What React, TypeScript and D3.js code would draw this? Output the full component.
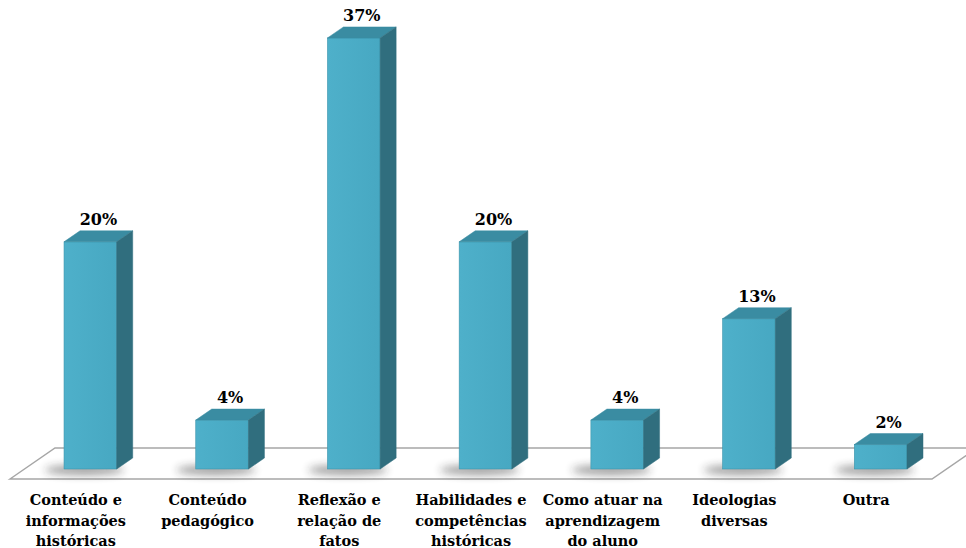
import React from "react";
import * as d3 from "d3";

const categories: string[][] = [
  ["Conteúdo e", "informações", "históricas"],
  ["Conteúdo", "pedagógico"],
  ["Reflexão e", "relação de", "fatos"],
  ["Habilidades e", "competências", "históricas"],
  ["Como atuar na", "aprendizagem", "do aluno"],
  ["Ideologias", "diversas"],
  ["Outra"],
];
const values: number[] = [19.5, 4.2, 37, 19.5, 4.2, 12.9, 2.1];

const W = 966;
const H = 548;
const FLOOR_FRONT_Y = 479;
const FLOOR_BACK_Y = 448;
const FLOOR_FRONT_LEFT = 10;
const FLOOR_FRONT_RIGHT = 932;
const FLOOR_DX = 45;
const BAR_BASE_Y = 469;
const DEPTH_DX = 16;
const DEPTH_DY = 11;
const SERIF = "'DejaVu Serif'";

export default function App() {
  const keys = categories.map((_, i) => String(i));
  const planeShift = (FLOOR_FRONT_Y - BAR_BASE_Y) * (FLOOR_DX / (FLOOR_FRONT_Y - FLOOR_BACK_Y));
  const x = d3
    .scaleBand<string>()
    .domain(keys)
    .range([FLOOR_FRONT_LEFT + planeShift, FLOOR_FRONT_RIGHT + planeShift])
    .paddingInner(0.6)
    .paddingOuter(0.3);
  const xFront = d3
    .scaleBand<string>()
    .domain(keys)
    .range([FLOOR_FRONT_LEFT, FLOOR_FRONT_RIGHT]);
  const y = d3.scaleLinear().domain([0, 40]).range([BAR_BASE_Y, BAR_BASE_Y - 40 * 11.65]);
  const fmt = (v: number) => `${Math.round(v)}%`;

  const floor = [
    [FLOOR_FRONT_LEFT, FLOOR_FRONT_Y],
    [FLOOR_FRONT_LEFT + FLOOR_DX, FLOOR_BACK_Y],
    [FLOOR_FRONT_RIGHT + FLOOR_DX, FLOOR_BACK_Y],
    [FLOOR_FRONT_RIGHT, FLOOR_FRONT_Y],
  ];
  const poly = (pts: number[][]) => pts.map((p) => p.join(",")).join(" ");

  return (
    <div style={{ position: "fixed", left: 0, top: 0, width: W, height: H, background: "#fff" }}>
      <svg width={W} height={H} style={{ display: "block" }}>
        <defs>
          <filter id="blur" x="-50%" y="-200%" width="200%" height="500%">
            <feGaussianBlur stdDeviation="4" />
          </filter>
          <linearGradient id="front" x1="0" x2="1" y1="0" y2="0">
            <stop offset="0" stopColor="#4EB0CA" />
            <stop offset="1" stopColor="#47A8C2" />
          </linearGradient>
        </defs>
        <polygon points={poly(floor)} fill="#fff" stroke="#A6A6A6" strokeWidth={1.5} />
        {values.map((v, i) => {
          const k = String(i);
          const x0 = x(k)!;
          const x1 = x0 + x.bandwidth();
          const yt = y(v);
          const yb = y(0);
          const cx = (x0 + x1) / 2;
          return (
            <g key={k}>
              <ellipse
                cx={cx - 6}
                cy={yb + 1}
                rx={x.bandwidth() * 0.75}
                ry={5}
                fill="#222"
                opacity={0.45}
                filter="url(#blur)"
              />
              <rect x={x0} y={yt} width={x1 - x0} height={yb - yt} fill="url(#front)" stroke="#3D95AC" strokeWidth={0.6} />
              <polygon
                points={poly([
                  [x0, yt],
                  [x1, yt],
                  [x1 + DEPTH_DX, yt - DEPTH_DY],
                  [x0 + DEPTH_DX, yt - DEPTH_DY],
                ])}
                fill="#3A8CA2"
                stroke="#3A8CA2"
                strokeWidth={0.5}
              />
              <polygon
                points={poly([
                  [x1, yt],
                  [x1 + DEPTH_DX, yt - DEPTH_DY],
                  [x1 + DEPTH_DX, yb - DEPTH_DY],
                  [x1, yb],
                ])}
                fill="#306E7E"
                stroke="#306E7E"
                strokeWidth={0.5}
              />
              <text
                x={cx + DEPTH_DX / 2}
                y={yt - DEPTH_DY - 6}
                textAnchor="middle"
                style={{ fontFamily: SERIF, fontWeight: "bold", fontSize: 16 }}
                fill="#000"
              >
                {fmt(v)}
              </text>
            </g>
          );
        })}
        {categories.map((lines, i) => {
          const cx = xFront(String(i))! + xFront.bandwidth() / 2;
          return (
            <text
              key={i}
              textAnchor="middle"
              style={{ fontFamily: SERIF, fontWeight: "bold", fontSize: 14.5 }}
              fill="#000"
            >
              {lines.map((l, j) => (
                <tspan key={j} x={cx} y={505 + j * 20.5}>
                  {l}
                </tspan>
              ))}
            </text>
          );
        })}
      </svg>
    </div>
  );
}
